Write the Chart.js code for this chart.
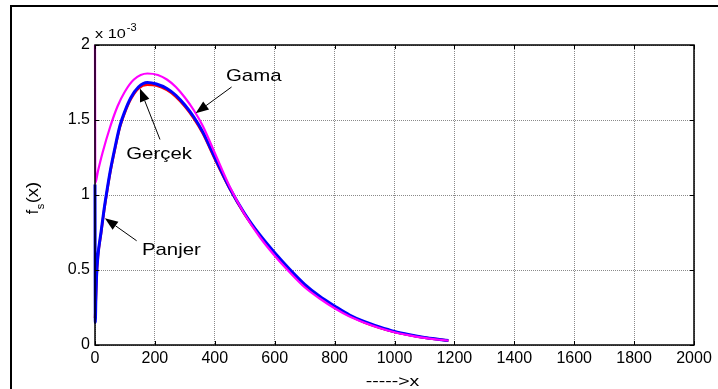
<!DOCTYPE html>
<html lang="tr">
<head>
  <meta charset="UTF-8" />
  <title>f_s(x)</title>
  <script src="https://cdn.jsdelivr.net/npm/chart.js"></script>
  <style>
    body { margin: 0; background: #fff; }
    #wrap { width: 718px; height: 389px; }
  </style>
</head>
<body>
  <div id="wrap"><canvas id="grafik" width="718" height="389"></canvas></div>

  <script>
    // degerler x 10^-3
    const xTicks = [0, 200, 400, 600, 800, 1000, 1200, 1400, 1600, 1800, 2000];
    const yTicks = [0, 0.5, 1, 1.5, 2];

    const xGama = [0, 1, 10, 25, 50, 75, 100, 130, 175, 210, 240, 270, 300, 330, 360, 400, 450, 500, 550, 600, 650, 700, 750, 800, 850, 900, 950, 1000, 1050, 1100, 1150, 1180];
    const yGama = [2.0, 1.08, 1.16, 1.28, 1.45, 1.59, 1.69, 1.77, 1.81, 1.80, 1.77, 1.72, 1.65, 1.565, 1.46, 1.28, 1.055, 0.87, 0.72, 0.595, 0.485, 0.385, 0.31, 0.245, 0.19, 0.148, 0.113, 0.085, 0.064, 0.047, 0.035, 0.03];

    const xPanjer = [0, 1, 3, 5, 10, 20, 30, 40, 50, 65, 83, 100, 120, 145, 175, 205, 240, 270, 300, 330, 360, 400, 450, 500, 550, 600, 650, 700, 750, 800, 850, 900, 950, 1000, 1050, 1100, 1150, 1180];
    const yPanjer = [1.07, 0.15, 0.32, 0.45, 0.6, 0.75, 0.9, 1.03, 1.15, 1.3, 1.46, 1.56, 1.65, 1.72, 1.75, 1.74, 1.71, 1.665, 1.60, 1.52, 1.42, 1.25, 1.045, 0.875, 0.735, 0.615, 0.505, 0.405, 0.325, 0.26, 0.20, 0.155, 0.12, 0.09, 0.068, 0.05, 0.037, 0.03];

    const xGercek = [0, 3, 5, 10, 20, 30, 40, 50, 65, 83, 100, 120, 145, 175, 205, 240, 270, 300, 330, 360, 400, 450, 500, 550, 600, 650, 700, 750, 800, 850, 900, 950, 1000, 1050, 1100, 1150, 1180];
    const yGercek = [0.18, 0.31, 0.44, 0.59, 0.74, 0.89, 1.02, 1.14, 1.29, 1.45, 1.55, 1.64, 1.71, 1.735, 1.73, 1.70, 1.655, 1.59, 1.51, 1.41, 1.24, 1.04, 0.87, 0.73, 0.61, 0.50, 0.40, 0.32, 0.255, 0.195, 0.15, 0.115, 0.087, 0.066, 0.048, 0.036, 0.029];

    // etiketler: metin, yazi merkezi (veri), ok kuyrugu, ok ucu
    const notlar = [
      { text: "Gama",   at: [530, 1.79], tail: [456, 1.72], tip: [336, 1.545] },
      { text: "Gerçek", at: [214, 1.27], tail: [217, 1.37], tip: [150, 1.71] },
      { text: "Panjer", at: [255, 0.63], tail: [139, 0.695], tip: [33, 0.845] }
    ];

    const pts = (xs, ys) => xs.map((x, i) => ({ x: x, y: ys[i] }));
    const FONT = "'Liberation Sans', Arial, sans-serif";

    // yatayda biraz genis yazi (orijinaldeki gibi)
    function yaz(c, text, x, y, size, gen, align) {
      c.save();
      c.font = size + 'px ' + FONT;
      const w = c.measureText(text).width * gen;
      let x0 = x;
      if (align === 'center') x0 = x - w / 2;
      c.translate(x0, y);
      c.scale(gen, 1);
      c.textAlign = 'left';
      c.fillText(text, 0, 0);
      c.restore();
      return w;
    }

    const cizimler = {
      id: 'cizimler',
      afterDraw(chart) {
        const c = chart.ctx, a = chart.chartArea;
        const sx = chart.scales.x, sy = chart.scales.y;
        c.save();

        // kutu
        c.strokeStyle = '#000';
        c.lineWidth = 1.5;
        c.strokeRect(a.left, a.top, a.right - a.left, a.bottom - a.top);

        // ic tikler
        c.lineWidth = 1;
        c.beginPath();
        xTicks.forEach(v => {
          const px = Math.round(sx.getPixelForValue(v)) + 0.5;
          c.moveTo(px, a.bottom); c.lineTo(px, a.bottom - 4);
          c.moveTo(px, a.top); c.lineTo(px, a.top + 4);
        });
        yTicks.forEach(v => {
          const py = Math.round(sy.getPixelForValue(v)) + 0.5;
          c.moveTo(a.left, py); c.lineTo(a.left + 4, py);
          c.moveTo(a.right, py); c.lineTo(a.right - 4, py);
        });
        c.stroke();

        c.fillStyle = '#000';
        c.textBaseline = 'alphabetic';

        // x 10^-3
        const w = yaz(c, 'x 10', a.left, a.top - 7, 13, 1.25);
        yaz(c, '-3', a.left + w + 1, a.top - 14, 10, 1.1);

        // x ekseni basligi
        yaz(c, '----->x', (a.left + a.right) / 2 - 2, 386, 15, 1.3, 'center');

        // y ekseni basligi f_s(x)
        c.save();
        c.translate(38, 198);
        c.rotate(-Math.PI / 2);
        c.font = '16px ' + FONT;
        const wf = c.measureText('f').width;
        c.font = '11px ' + FONT;
        const ws = c.measureText('s').width;
        c.font = '16px ' + FONT;
        const wp = c.measureText('(x)').width * 1.15;
        const total = wf + ws + wp + 1;
        const x0 = -total / 2;
        yaz(c, 'f', x0, 0, 16, 1);
        yaz(c, 's', x0 + wf + 0.5, 6, 11, 1);
        yaz(c, '(x)', x0 + wf + ws + 1, 0, 16, 1.15);
        c.restore();

        // oklar ve yazilar
        c.textBaseline = 'middle';
        notlar.forEach(n => {
          const tx = sx.getPixelForValue(n.at[0]), ty = sy.getPixelForValue(n.at[1]);
          yaz(c, n.text, tx, ty, 17, 1.2, 'center');
          const x1 = sx.getPixelForValue(n.tail[0]), y1 = sy.getPixelForValue(n.tail[1]);
          const x2 = sx.getPixelForValue(n.tip[0]), y2 = sy.getPixelForValue(n.tip[1]);
          const ang = Math.atan2(y2 - y1, x2 - x1);
          const L = 13, H = 5;
          const bx = x2 - L * Math.cos(ang), by = y2 - L * Math.sin(ang);
          c.lineWidth = 1;
          c.beginPath();
          c.moveTo(x1, y1); c.lineTo(bx, by);
          c.stroke();
          c.beginPath();
          c.moveTo(x2, y2);
          c.lineTo(bx + H * Math.sin(ang), by - H * Math.cos(ang));
          c.lineTo(bx - H * Math.sin(ang), by + H * Math.cos(ang));
          c.closePath();
          c.fill();
        });

        // dis cerceve
        c.lineWidth = 2;
        c.beginPath();
        c.moveTo(11, 389); c.lineTo(11, 6); c.lineTo(718, 6);
        c.stroke();

        c.restore();
      }
    };

    const ctx = document.getElementById('grafik').getContext('2d');
    const chart = new Chart(ctx, {
      type: 'line',
      data: {
        datasets: [
          { label: 'Gama', data: pts(xGama, yGama), borderColor: '#ff00ff', borderWidth: 2.2, clip: 4 },
          { label: 'Panjer', data: pts(xPanjer, yPanjer), borderColor: '#0000ff', borderWidth: 3, clip: 4 },
          { label: 'Gerçek', data: pts(xGercek, yGercek), borderColor: '#ff0000', borderWidth: 2.5, clip: 4 }
        ]
      },
      options: {
        responsive: false,
        animation: false,
        events: [],
        layout: { padding: { top: 45, right: 24, left: 0, bottom: 0 } },
        elements: {
          point: { radius: 0 },
          line: { tension: 0, cubicInterpolationMode: 'monotone', fill: false }
        },
        plugins: { legend: { display: false }, tooltip: { enabled: false } },
        scales: {
          x: {
            type: 'linear',
            min: 0, max: 2000,
            afterBuildTicks: s => { s.ticks = xTicks.map(v => ({ value: v })); },
            afterFit: s => { s.height = 44; },
            ticks: { color: '#000', padding: 4, maxRotation: 0, autoSkip: false, callback: v => String(v), font: { family: FONT, size: 16 } },
            grid: { color: '#8a8a8a', lineWidth: 1, drawTicks: false },
            border: { display: false, dash: [1, 1] }
          },
          y: {
            type: 'linear',
            min: 0, max: 2,
            afterBuildTicks: s => { s.ticks = yTicks.map(v => ({ value: v })); },
            afterFit: s => { s.width = 95; },
            ticks: { color: '#000', padding: 5, callback: v => String(v), font: { family: FONT, size: 16 } },
            grid: { color: '#8a8a8a', lineWidth: 1, drawTicks: false },
            border: { display: false, dash: [1, 1] }
          }
        }
      },
      plugins: [cizimler]
    });
  </script>
</body>
</html>
